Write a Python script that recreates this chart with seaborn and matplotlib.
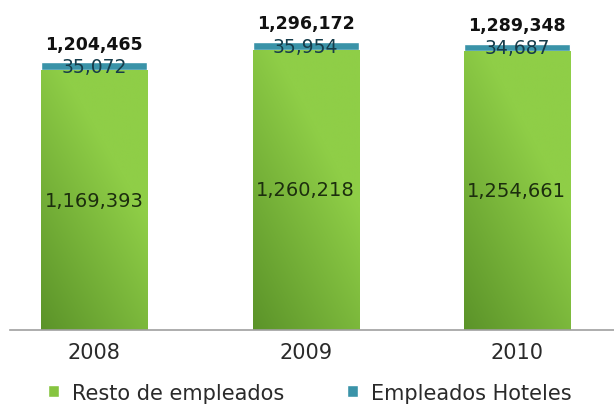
import matplotlib
matplotlib.use("Agg")
import matplotlib.pyplot as plt
import seaborn as sns
import numpy as np
import pandas as pd
from matplotlib.patches import Patch
from matplotlib.colors import LinearSegmentedColormap

years = ["2008", "2009", "2010"]
resto = [1169393, 1260218, 1254661]
hoteles = [35072, 35954, 34687]
totals = [1204465, 1296172, 1289348]

sns.set_theme(style="white")
plt.rcParams['font.family'] = ['DejaVu Sans']

teal = "#3a93a8"
green = "#86c440"

df = pd.DataFrame({"year": years, "resto": resto, "hoteles": hoteles, "total": totals})

fig = plt.figure(figsize=(6.14, 4.06), dpi=100)
ax = fig.add_axes([0.016, 0.185, 0.984, 0.815])

sns.barplot(data=df, x="year", y="total", color=teal, saturation=1, width=0.502, ax=ax)
sns.barplot(data=df, x="year", y="resto", color=green, saturation=1, width=0.502, ax=ax)

ax.set_ylim(0, 1.49e6)
ax.set_xlim(-0.40, 2.46)

# gradient on green bars (dark bottom-left to light top-right)
cmap = LinearSegmentedColormap.from_list("g", ["#5b9329", "#8fce47"])
grad2 = np.add.outer(np.linspace(0, 0.7, 256), np.linspace(0, 0.5, 256))
green_patches = ax.patches[len(years):]
for p in green_patches:
    x0, y0 = p.get_x(), p.get_y()
    w, h = p.get_width(), p.get_height()
    im = ax.imshow(grad2, extent=[x0, x0 + w, y0, y0 + h], origin="lower",
                   cmap=cmap, aspect="auto", zorder=p.get_zorder() + 0.1, vmin=0, vmax=0.8)
    im.set_clip_path(p)

for i in range(len(years)):
    ax.text(i, resto[i] / 2, f"{resto[i]:,}", ha="center", va="center",
            fontsize=14, color="#1c2e0e", zorder=5)
    ax.text(i, resto[i] + hoteles[i] / 2, f"{hoteles[i]:,}", ha="center", va="center",
            fontsize=13.5, color="#163c4a", zorder=5)
    ax.annotate(f"{totals[i]:,}", xy=(i, totals[i]), xytext=(0, 7),
                textcoords="offset points", ha="center", va="bottom",
                fontsize=12.5, fontweight="bold", color="#111111", zorder=5)

ax.set_yticks([])
ax.set_xlabel("")
ax.set_ylabel("")
for s in ["top", "right", "left"]:
    ax.spines[s].set_visible(False)
ax.spines["bottom"].set_color("#a0a0a0")
ax.spines["bottom"].set_linewidth(1.2)
ax.tick_params(axis="x", labelsize=15, colors="#2a2a2a", length=0, pad=9)

handles = [Patch(facecolor=green, label="Resto de empleados"),
           Patch(facecolor=teal, label="Empleados Hoteles")]
fig.legend(handles=handles, loc="center", bbox_to_anchor=(0.505, 0.03), ncol=2,
           frameon=False, fontsize=15, handlelength=0.5, handleheight=0.5,
           handletextpad=0.65, columnspacing=3.0, labelcolor="#2a2a2a")

fig.savefig("out.png", dpi=100)
